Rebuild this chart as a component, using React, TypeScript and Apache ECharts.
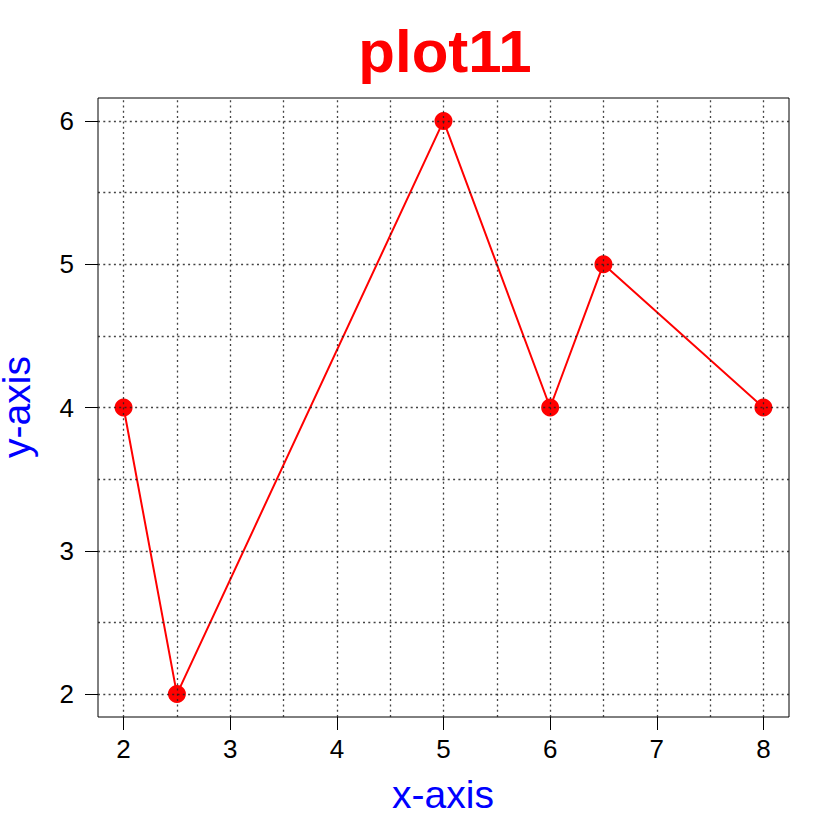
import React, { useEffect, useRef } from "react";
import * as echarts from "echarts";

const xValues = [2, 2.5, 5, 6, 6.5, 8];
const yValues = [4, 2, 6, 4, 5, 4];
const xTicks = [2, 3, 4, 5, 6, 7, 8];
const yTicks = [2, 3, 4, 5, 6];
const xGrid = [2, 2.5, 3, 3.5, 4, 4.5, 5, 5.5, 6, 6.5, 7, 7.5, 8];
const yGrid = [2, 2.5, 3, 3.5, 4, 4.5, 5, 5.5, 6];
const xRange = [1.76, 8.24];
const yRange = [1.84, 6.16];

export default function App() {
  const ref = useRef<HTMLDivElement>(null);
  useEffect(() => {
    if (!ref.current) return;
    const chart = echarts.init(ref.current, null, { renderer: "svg" });
    const font = "'Liberation Sans', Arial, sans-serif";
    const gridLine = { color: "#222", width: 1.3, type: [2, 3.3] as any, opacity: 0.85 };
    chart.setOption({
      animation: false,
      backgroundColor: "#fff",
      grid: {
        left: 98,
        top: 98,
        width: 691,
        height: 619,
        show: true,
        borderColor: "#000",
        borderWidth: 1,
        backgroundColor: "transparent",
      },
      xAxis: {
        type: "value",
        min: xRange[0],
        max: xRange[1],
        axisLine: { show: false },
        splitLine: { show: false },
        axisTick: {
          show: true,
          length: 13,
          inside: false,
          customValues: xTicks,
          lineStyle: { color: "#000", width: 1 },
        },
        axisLabel: {
          customValues: xTicks,
          fontSize: 26,
          color: "#000",
          fontFamily: font,
          margin: 19,
          formatter: (v: number) => String(v),
        },
      },
      yAxis: {
        type: "value",
        min: yRange[0],
        max: yRange[1],
        axisLine: { show: false },
        splitLine: { show: false },
        axisTick: {
          show: true,
          length: 13,
          inside: false,
          customValues: yTicks,
          lineStyle: { color: "#000", width: 1 },
        },
        axisLabel: {
          customValues: yTicks,
          fontSize: 26,
          color: "#000",
          fontFamily: font,
          margin: 24,
          formatter: (v: number) => String(v),
        },
      },
      series: [
        {
          type: "line",
          z: 2,
          data: xValues.map((x, i) => [x, yValues[i]]),
          symbol: "circle",
          symbolSize: 18,
          showSymbol: true,
          lineStyle: { color: "#ff0000", width: 2 },
          itemStyle: { color: "#ff0000" },
          silent: true,
        },
        {
          type: "line",
          z: 10,
          zlevel: 0,
          data: [],
          silent: true,
          markLine: {
            silent: true,
            z: 10,
            symbol: ["none", "none"],
            label: { show: false },
            lineStyle: gridLine,
            emphasis: { disabled: true },
            data: [
              ...xGrid.map((v) => ({ xAxis: v, lineStyle: gridLine })),
              ...yGrid.map((v) => ({ yAxis: v, lineStyle: gridLine })),
            ],
          },
        },
      ],
      graphic: [
        {
          type: "text",
          x: 445,
          y: 51,
          style: {
            text: "plot11",
            fontSize: 60,
            fontWeight: "bold",
            fontFamily: font,
            fill: "#ff0000",
            textAlign: "center",
            textVerticalAlign: "middle",
          },
        },
        {
          type: "text",
          x: 443,
          y: 794,
          style: {
            text: "x-axis",
            fontSize: 39,
            fontFamily: font,
            fill: "#0000ff",
            textAlign: "center",
            textVerticalAlign: "middle",
          },
        },
        {
          type: "text",
          x: 16,
          y: 407,
          rotation: Math.PI / 2,
          style: {
            text: "y-axis",
            fontSize: 39,
            fontFamily: font,
            fill: "#0000ff",
            textAlign: "center",
            textVerticalAlign: "middle",
          },
        },
      ],
    });
    return () => chart.dispose();
  }, []);
  return (
    <div
      ref={ref}
      style={{ position: "absolute", left: 0, top: 0, width: 840, height: 840 }}
    />
  );
}
